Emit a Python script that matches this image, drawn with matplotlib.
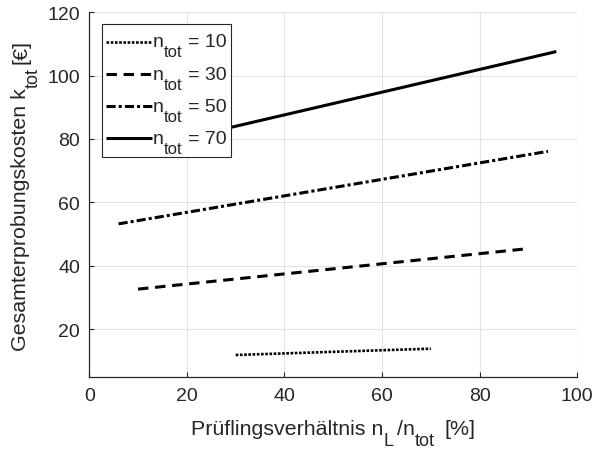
import matplotlib.pyplot as plt
from matplotlib.patches import Rectangle
from matplotlib.transforms import Bbox

# Prüflingsverhältnis n_L/n_tot [%] and Gesamterprobungskosten k_tot [€]
n_tot = [10, 30, 50, 70]
ratio_start = [30.0, 10.0, 6.0, 4.3]
ratio_end = [70.0, 90.0, 94.0, 95.7]
cost_start = [11.8, 32.6, 53.2, 74.8]
cost_end = [13.8, 45.4, 76.1, 107.6]

x_ticks = [0, 20, 40, 60, 80, 100]
y_ticks = [20, 40, 60, 80, 100, 120]

LINESTYLES = [(0, (1, 0.6)), (0, (3.4, 2.2)), (0, (3.0, 1.0, 1.0, 1.0)), "-"]
LINEWIDTHS = [1.9, 2.2, 2.2, 2.2]
AX_COLOR = "#262626"
FS_TICK = 14
FS_LABEL = 15.4
FS_LEGEND = 14

plt.rcParams["font.family"] = ["Liberation Sans", "DejaVu Sans"]
plt.rcParams["text.color"] = AX_COLOR


def rich_text(ax, xy, coords, pieces, size, sub_size, drop, rotation=0, va="bottom"):
    """Chain text pieces (text, is_sub, gap_pt) so subscripts hang below
    the baseline at a readable size."""
    ha = "left" if rotation == 0 else "right"
    first = ax.annotate(pieces[0][0], xy=xy, xycoords=coords, fontsize=size,
                        rotation=rotation, ha=ha, va=va, annotation_clip=False)
    arts = [first]
    prev = first
    for s, is_sub, gap in pieces[1:]:
        fs = sub_size if is_sub else size
        d = drop if is_sub else 0
        if rotation == 0:
            t = ax.annotate(s, xy=(1, 0), xycoords=(prev, first),
                            xytext=(gap, -d), textcoords="offset points",
                            fontsize=fs, ha="left", va="bottom", annotation_clip=False)
        else:
            t = ax.annotate(s, xy=(1, 1), xycoords=(first, prev),
                            xytext=(d, gap), textcoords="offset points",
                            fontsize=fs, rotation=90, ha="right", va="bottom",
                            annotation_clip=False)
        arts.append(t)
        prev = t
    return arts


def shift_first(arts, dx=0.0, dy=0.0):
    x, y = arts[0].xyann
    arts[0].xyann = (x + dx, y + dy)
    arts[0].xy = arts[0].xyann


fig = plt.figure(figsize=(5.94, 4.52), dpi=100)
ax = fig.add_axes([0.1503, 0.163, 0.8216, 0.8076])

for n, x0, x1, y0, y1, ls, lw in zip(n_tot, ratio_start, ratio_end, cost_start,
                                     cost_end, LINESTYLES, LINEWIDTHS):
    ax.plot([x0, x1], [y0, y1], color="black", linewidth=lw, linestyle=ls,
            solid_capstyle="butt", dash_capstyle="butt")

ax.set_xlim(0, 100)
ax.set_ylim(4.75, 120)
ax.set_xticks(x_ticks)
ax.set_yticks(y_ticks)
ax.grid(True, color="#e3e3e3", linewidth=0.8)
ax.set_axisbelow(True)

for side in ("top", "right"):
    ax.spines[side].set_visible(False)
for side in ("left", "bottom"):
    ax.spines[side].set_color(AX_COLOR)
    ax.spines[side].set_linewidth(0.9)
ax.tick_params(direction="in", length=3.4, width=0.8, colors=AX_COLOR,
               labelsize=FS_TICK, pad=6.7)

# axis labels with hanging subscripts
xlab = rich_text(ax, (200, 13), "figure pixels",
                 [("Prüflingsverhältnis n", False, 0), ("L", True, 0.3),
                  ("/n", False, 2.5), ("tot", True, 0.3), ("[%]", False, 7)],
                 FS_LABEL, 13, 8.0)
ylab = rich_text(ax, (30, 100), "figure pixels",
                 [("Gesamterprobungskosten k", False, 0), ("tot", True, 0.3),
                  ("[€]", False, 2.5)],
                 FS_LABEL, 13, 8.5, rotation=90)

# legend box, drawn by hand so the entries can use the same subscripts
ax.add_patch(Rectangle((0.0254, 0.6036), 0.2644, 0.3644, transform=ax.transAxes,
                       facecolor="white", edgecolor=AX_COLOR, linewidth=0.8,
                       zorder=5, clip_on=False))
row_y = [0.9195, 0.830, 0.7425, 0.6548]
for n, ry, ls, lw in zip(n_tot, row_y, LINESTYLES, LINEWIDTHS):
    ax.plot([0.0342, 0.1279], [ry, ry], transform=ax.transAxes, color="black",
            linewidth=lw, linestyle=ls, solid_capstyle="butt",
            dash_capstyle="butt", zorder=6, clip_on=False)
    arts = rich_text(ax, (0.1305, ry - 0.013), "axes fraction",
                     [("n", False, 0), ("tot", True, 0.2), ("= %d" % n, False, 4)],
                     FS_LEGEND, 12, 6.5, va="baseline")
    for a in arts:
        a.set_zorder(7)

# centre both labels on the axes
fig.canvas.draw()
renderer = fig.canvas.get_renderer()
ax_box = ax.get_window_extent(renderer)

box = Bbox.union([a.get_window_extent(renderer) for a in xlab])
shift_first(xlab, dx=(ax_box.x0 + ax_box.x1) / 2 - (box.x0 + box.x1) / 2)

box = Bbox.union([a.get_window_extent(renderer) for a in ylab])
shift_first(ylab, dy=(ax_box.y0 + ax_box.y1) / 2 - (box.y0 + box.y1) / 2)

fig.savefig("out.png", dpi=100)
